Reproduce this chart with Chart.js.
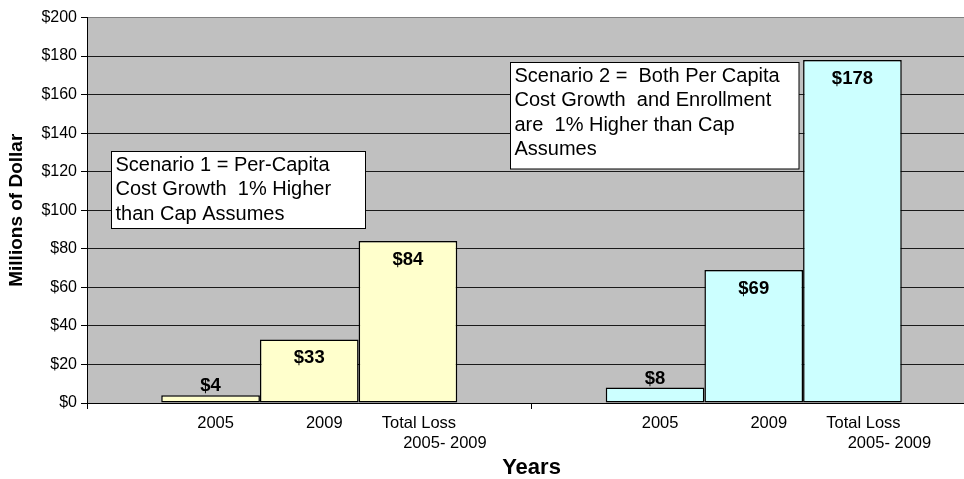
<!DOCTYPE html>
<html>
<head>
<meta charset="utf-8">
<script src="https://cdn.jsdelivr.net/npm/chart.js@4/dist/chart.umd.min.js"></script>
<style>
  html, body { margin: 0; padding: 0; background: #fff; overflow: hidden; }
  #wrap { width: 964px; height: 479px; overflow: hidden; }
</style>
</head>
<body>
<div id="wrap"><canvas id="lossChart" width="980" height="479"></canvas></div>
<script>
// data
const scenarios = ['Scenario 1', 'Scenario 2'];
const seriesNames = ['2005', '2009', 'Total Loss'];
const seriesSubNames = ['', '', '2005- 2009'];
const loss2005 = [4, 8];
const loss2009 = [33, 69];
const lossTotal = [84, 178];
const scenarioColors = ['#FFFFCC', '#CCFFFF'];
const noteText = [
  ['Scenario 1 = Per-Capita', 'Cost Growth  1% Higher', 'than Cap Assumes'],
  ['Scenario 2 =  Both Per Capita', 'Cost Growth  and Enrollment', 'are  1% Higher than Cap', 'Assumes']
];

const FONT = "'Liberation Sans', Arial, sans-serif";
Chart.defaults.font.family = FONT;
Chart.defaults.color = '#000';

// note boxes (left, top, width, height)
const noteBoxes = [
  { x: 111.5, y: 151.5, w: 254, h: 77 },
  { x: 510.5, y: 62.5, w: 288.5, h: 106.5 }
];

// gray plot background
const plotBg = {
  id: 'plotBg',
  beforeDraw(chart) {
    const { ctx, chartArea: a } = chart;
    ctx.save();
    ctx.fillStyle = '#C0C0C0';
    ctx.fillRect(a.left, a.top, a.right - a.left, a.bottom - a.top);
    ctx.restore();
  }
};

// value labels on bars and series names under bars
const barText = {
  id: 'barText',
  afterDatasetsDraw(chart) {
    const ctx = chart.ctx;
    ctx.save();
    ctx.textAlign = 'center';
    ctx.textBaseline = 'middle';
    const nameShift = [5, 15, 11];
    chart.data.datasets.forEach((ds, i) => {
      const meta = chart.getDatasetMeta(i);
      meta.data.forEach((bar, j) => {
        const v = ds.data[j];
        const h = bar.base - bar.y;
        ctx.font = 'bold 18.5px ' + FONT;
        ctx.fillStyle = '#000';
        const ty = h < 30 ? bar.y - 9 : bar.y + 19;
        ctx.fillText('$' + v, bar.x, ty);

        ctx.font = '16.5px ' + FONT;
        ctx.fillText(seriesNames[i], bar.x + nameShift[i], 423);
        if (seriesSubNames[i]) {
          ctx.fillText(seriesSubNames[i], bar.x + 37, 443);
        }
      });
    });
    ctx.restore();
  }
};

// scenario note boxes
const notes = {
  id: 'notes',
  afterDraw(chart) {
    const ctx = chart.ctx;
    ctx.save();
    noteBoxes.forEach((b, k) => {
      ctx.fillStyle = '#fff';
      ctx.fillRect(b.x, b.y, b.w, b.h);
      ctx.strokeStyle = '#000';
      ctx.lineWidth = 1;
      ctx.strokeRect(b.x, b.y, b.w, b.h);
      ctx.fillStyle = '#000';
      ctx.font = '20px ' + FONT;
      ctx.textAlign = 'left';
      ctx.textBaseline = 'alphabetic';
      noteText[k].forEach((line, n) => {
        ctx.fillText(line, b.x + 4, b.y + 19.5 + n * 24.4);
      });
    });
    ctx.restore();
  }
};

function series(label, data) {
  return {
    label: label,
    data: data,
    backgroundColor: scenarioColors,
    borderColor: '#000',
    borderWidth: 1.5,
    borderSkipped: false,
    barPercentage: 1,
    categoryPercentage: 0.666
  };
}

new Chart(document.getElementById('lossChart'), {
  type: 'bar',
  data: {
    labels: scenarios,
    datasets: [
      series(seriesNames[0], loss2005),
      series(seriesNames[1], loss2009),
      series(seriesNames[2], lossTotal)
    ]
  },
  options: {
    responsive: false,
    devicePixelRatio: 1,
    animation: false,
    layout: { padding: { top: 17.5, right: 4, left: 0, bottom: 0 } },
    plugins: {
      legend: { display: false },
      tooltip: { enabled: false }
    },
    scales: {
      x: {
        afterFit(s) { s.height = 76; },
        ticks: { display: false },
        grid: { offset: true, drawOnChartArea: false, drawTicks: true, tickLength: 6, color: '#000' },
        border: { color: '#000', width: 1 },
        title: {
          display: true,
          text: 'Years',
          font: { size: 22, weight: 'bold', lineHeight: 1 },
          padding: { top: 0, bottom: 0 }
        }
      },
      y: {
        min: 0,
        max: 200,
        afterFit(s) { s.width = 87; },
        ticks: {
          stepSize: 20,
          padding: 4,
          font: { size: 16 },
          callback: v => '$' + v
        },
        grid: {
          color: c => (c.tick && c.tick.value === 200 ? '#808080' : '#1a1a1a'),
          tickColor: '#000',
          tickLength: 6,
          lineWidth: 1
        },
        border: { color: '#000', width: 1 },
        title: {
          display: true,
          text: 'Millions of Dollar',
          font: { size: 19, weight: 'bold', lineHeight: 1 },
          padding: { top: 7.5, bottom: 0 }
        }
      }
    }
  },
  plugins: [plotBg, barText, notes]
});
</script>
</body>
</html>
